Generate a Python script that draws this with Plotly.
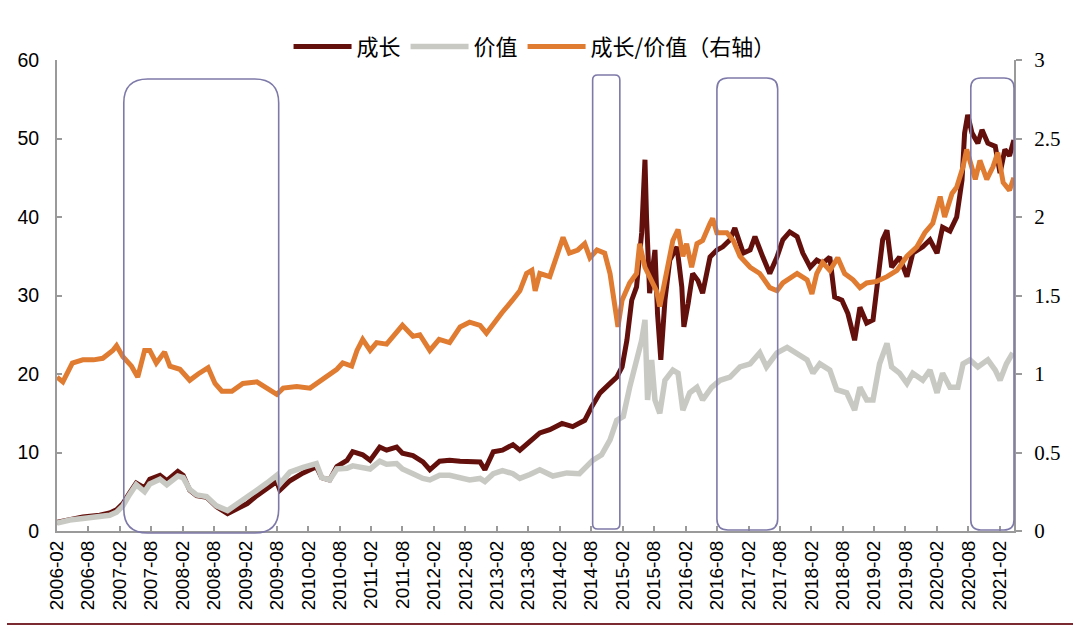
import plotly.graph_objects as go
import pandas as pd

# ---------------- data ----------------
growth_dates = [
    "2006-02-01", "2006-04-16", "2006-07-01", "2006-10-07", "2006-12-04", "2007-01-13", "2007-02-19",
    "2007-03-28", "2007-05-07", "2007-06-25", "2007-07-25", "2007-09-22", "2007-11-01", "2008-01-04",
    "2008-02-04", "2008-03-13", "2008-04-22", "2008-06-19", "2008-08-16", "2008-10-19", "2008-12-13",
    "2009-02-10", "2009-04-07", "2009-06-04", "2009-08-01", "2009-08-19", "2009-10-16", "2010-01-01",
    "2010-03-19", "2010-04-19", "2010-06-04", "2010-07-16", "2010-09-13", "2010-10-16", "2010-12-13",
    "2011-01-25", "2011-03-22", "2011-05-01", "2011-06-28", "2011-08-01", "2011-10-01", "2011-11-28",
    "2012-01-07", "2012-03-04", "2012-05-01", "2012-07-01", "2012-08-25", "2012-10-25", "2012-11-22",
    "2013-01-10", "2013-03-04", "2013-05-04", "2013-06-13", "2013-08-10", "2013-10-07",
    "2013-12-04", "2014-02-13", "2014-04-16", "2014-06-25", "2014-08-04", "2014-09-22", "2014-11-19",
    "2014-12-28", "2015-01-28", "2015-02-25", "2015-03-25", "2015-04-22", "2015-05-22", "2015-06-10",
    "2015-06-19", "2015-07-07", "2015-08-07", "2015-08-22", "2015-09-10", "2015-10-04", "2015-11-01",
    "2015-12-13", "2016-01-10", "2016-01-22", "2016-02-16", "2016-03-13", "2016-04-13", "2016-05-10",
    "2016-06-22", "2016-08-01", "2016-09-04", "2016-10-16", "2016-11-13", "2017-01-01", "2017-02-10",
    "2017-03-10", "2017-04-25", "2017-06-04", "2017-07-16", "2017-08-19", "2017-09-28", "2017-11-10",
    "2017-12-13", "2018-01-25", "2018-03-04", "2018-04-07", "2018-05-19", "2018-06-16", "2018-07-28",
    "2018-09-01", "2018-10-10", "2018-11-10", "2018-12-19", "2019-01-25", "2019-02-22", "2019-03-22",
    "2019-04-16", "2019-05-13", "2019-06-28", "2019-08-10", "2019-09-13", "2019-11-10", "2019-12-22",
    "2020-02-01", "2020-03-04", "2020-04-16", "2020-05-25", "2020-06-25", "2020-07-10", "2020-07-28",
    "2020-08-22", "2020-09-25", "2020-10-19", "2020-11-22", "2021-01-04", "2021-02-01", "2021-03-01",
    "2021-03-28", "2021-04-22",
]
growth_values = [
    1.1, 1.5, 1.8, 2.0, 2.3, 2.7, 3.5,
    4.8, 6.1, 5.5, 6.6, 7.1, 6.4, 7.6,
    7.1, 5.2, 4.5, 4.3, 3.1, 2.2, 2.9,
    3.5, 4.5, 5.5, 6.3, 5.2, 6.4, 7.4,
    8.2, 6.8, 6.5, 8.2, 9.0, 10.1, 9.7,
    9.0, 10.7, 10.3, 10.7, 9.9, 9.6, 8.8,
    7.8, 8.9, 9.0, 8.9, 8.9, 8.8, 7.8,
    10.1, 10.3, 11.0, 10.3, 11.4, 12.5,
    12.9, 13.7, 13.3, 14.1, 15.8, 17.6, 18.8,
    19.6, 20.9, 24.3, 29.4, 31.1, 38.0, 47.3,
    40.0, 30.3, 35.8, 27.7, 21.8, 29.4, 34.5,
    36.2, 31.1, 26.0, 29.0, 32.8, 31.9, 30.3,
    34.9, 35.8, 36.2, 37.1, 38.6, 35.4, 35.8,
    37.5, 34.9, 32.8, 34.9, 37.1, 38.1, 37.5,
    35.4, 33.6, 34.5, 34.1, 34.9, 29.8, 29.4,
    27.7, 24.3, 28.5, 26.5, 26.9, 32.0, 37.1,
    38.3, 33.6, 34.9, 32.4, 35.4, 36.2, 37.1,
    35.4, 38.7, 38.2, 40.0, 44.7, 50.7, 53.0,
    50.7, 49.4, 51.1, 49.4, 49.0, 45.6, 48.6,
    47.8, 49.8,
]

value_dates = [
    "2006-02-01", "2006-04-16", "2006-07-01", "2006-10-07", "2006-12-04", "2007-01-13", "2007-02-19",
    "2007-03-28", "2007-05-07", "2007-06-25", "2007-07-25", "2007-09-22", "2007-11-01", "2008-01-04",
    "2008-02-04", "2008-03-13", "2008-04-22", "2008-06-19", "2008-08-16", "2008-10-19", "2008-12-13",
    "2009-02-10", "2009-04-07", "2009-06-04", "2009-08-01", "2009-08-19", "2009-10-16", "2010-01-01",
    "2010-03-19", "2010-04-19", "2010-06-04", "2010-07-16", "2010-09-13", "2010-10-16", "2010-12-13",
    "2011-01-25", "2011-03-22", "2011-05-01", "2011-06-28", "2011-08-01", "2011-10-01", "2011-11-28",
    "2012-01-07", "2012-03-04", "2012-05-01", "2012-07-01", "2012-08-25", "2012-10-25", "2012-11-22",
    "2013-01-10", "2013-03-04", "2013-05-04", "2013-06-13", "2013-08-10", "2013-10-07",
    "2013-12-22", "2014-03-13", "2014-05-25", "2014-07-07", "2014-08-10", "2014-10-01", "2014-11-19",
    "2014-12-28", "2015-02-04", "2015-03-13", "2015-04-22", "2015-05-22", "2015-06-10", "2015-06-25",
    "2015-07-19", "2015-08-07", "2015-09-04", "2015-10-04", "2015-11-19", "2015-12-19", "2016-01-16",
    "2016-02-25", "2016-04-07", "2016-05-10", "2016-07-01", "2016-08-19", "2016-10-16", "2016-12-13",
    "2017-02-10", "2017-04-07", "2017-05-16", "2017-07-16", "2017-09-13", "2017-11-10", "2018-01-07",
    "2018-02-10", "2018-03-22", "2018-05-19", "2018-06-28", "2018-08-25", "2018-10-10", "2018-11-10",
    "2018-12-19", "2019-01-25", "2019-03-04", "2019-04-16", "2019-05-13", "2019-06-28", "2019-08-10",
    "2019-09-13", "2019-11-10", "2019-12-22", "2020-02-01", "2020-03-04", "2020-04-16", "2020-06-01",
    "2020-07-01", "2020-08-10", "2020-09-25", "2020-11-22", "2021-01-04", "2021-02-01", "2021-03-10",
    "2021-04-16",
]
value_values = [
    1.0, 1.4, 1.6, 1.8, 2.0, 2.4, 3.2,
    4.6, 5.9, 5.0, 6.0, 6.6, 5.9, 7.0,
    6.8, 5.3, 4.6, 4.4, 3.2, 2.6, 3.4,
    4.2, 5.2, 6.1, 7.1, 6.0, 7.5, 8.1,
    8.6, 6.8, 6.5, 7.9, 8.0, 8.3, 8.0,
    7.9, 8.9, 8.5, 8.6, 7.9, 7.3, 6.7,
    6.5, 7.1, 7.1, 6.7, 6.5, 6.7, 6.3,
    7.3, 7.7, 7.3, 6.7, 7.2, 7.8,
    7.0, 7.4, 7.3, 8.2, 9.0, 9.7, 11.6,
    14.1, 14.6, 18.3, 21.8, 24.3, 26.9, 16.7,
    21.8, 16.7, 15.0, 19.2, 20.5, 20.1, 15.4,
    17.6, 18.3, 16.7, 18.3, 19.2, 19.6, 20.9,
    21.3, 22.7, 20.9, 22.7, 23.4, 22.7, 21.8,
    20.1, 21.3, 20.5, 18.0, 17.6, 15.4, 18.3,
    16.7, 16.7, 21.3, 23.9, 20.9, 20.1, 18.8,
    20.1, 19.2, 20.5, 17.6, 20.1, 18.3, 18.3,
    21.3, 21.8, 20.9, 21.8, 20.5, 19.2, 21.3,
    22.7,
]

ratio_dates = [
    "2006-02-01", "2006-03-07", "2006-05-01", "2006-07-01", "2006-09-01", "2006-10-25", "2006-12-22",
    "2007-01-13", "2007-02-19", "2007-04-10", "2007-05-16", "2007-06-25", "2007-07-25", "2007-09-01",
    "2007-10-19", "2007-11-19", "2008-01-16", "2008-03-13", "2008-05-01", "2008-06-28", "2008-08-07",
    "2008-09-16", "2008-11-13", "2009-01-16", "2009-04-07", "2009-06-01", "2009-08-01", "2009-09-07",
    "2009-11-25", "2010-02-10", "2010-03-19", "2010-05-16", "2010-07-16", "2010-08-19", "2010-10-10",
    "2010-11-10", "2010-12-13", "2011-01-25", "2011-03-04", "2011-05-01", "2011-06-07", "2011-08-01",
    "2011-10-01", "2011-11-10", "2012-01-07", "2012-03-01", "2012-05-01", "2012-07-01", "2012-08-25",
    "2012-10-25", "2012-12-01", "2013-01-10", "2013-03-01", "2013-05-01", "2013-06-13", "2013-07-22",
    "2013-08-22", "2013-09-10", "2013-10-07", "2013-12-04", "2014-01-16", "2014-02-19", "2014-03-28",
    "2014-05-16", "2014-06-25", "2014-07-25", "2014-09-04", "2014-10-19", "2014-11-19", "2014-12-16",
    "2015-01-04", "2015-01-28", "2015-03-13", "2015-04-22", "2015-05-10", "2015-06-10", "2015-07-07",
    "2015-08-16", "2015-09-04", "2015-10-16", "2015-11-19", "2015-12-19", "2016-01-16", "2016-02-07",
    "2016-03-07", "2016-04-07", "2016-05-10", "2016-06-22", "2016-07-07", "2016-08-01", "2016-09-28",
    "2016-11-04", "2016-12-13", "2017-02-10", "2017-04-07", "2017-06-04", "2017-07-16", "2017-08-19",
    "2017-11-10", "2018-01-07", "2018-02-04", "2018-03-04", "2018-04-07", "2018-05-19", "2018-07-04",
    "2018-08-13", "2018-10-01", "2018-11-10", "2018-12-19", "2019-02-16", "2019-04-16", "2019-06-13",
    "2019-08-10", "2019-10-07", "2019-11-22", "2020-01-07", "2020-02-19", "2020-03-16", "2020-04-28",
    "2020-05-25", "2020-07-01", "2020-07-22", "2020-08-10", "2020-09-10", "2020-10-07", "2020-11-16",
    "2020-12-22", "2021-01-19", "2021-02-19", "2021-03-28", "2021-04-22",
]
ratio_values = [
    0.98, 0.95, 1.07, 1.09, 1.09, 1.10, 1.15,
    1.18, 1.11, 1.05, 0.98, 1.15, 1.15, 1.07,
    1.14, 1.05, 1.03, 0.96, 1.00, 1.04, 0.94,
    0.89, 0.89, 0.94, 0.95, 0.91, 0.87, 0.91,
    0.92, 0.91, 0.94, 0.98, 1.03, 1.07, 1.05,
    1.15, 1.22, 1.15, 1.20, 1.19, 1.24, 1.31,
    1.24, 1.25, 1.15, 1.22, 1.20, 1.30, 1.33,
    1.31, 1.26, 1.32, 1.39, 1.47, 1.53, 1.64,
    1.66, 1.53, 1.64, 1.62, 1.75, 1.87, 1.77,
    1.79, 1.83, 1.74, 1.79, 1.77, 1.64, 1.43,
    1.30, 1.47, 1.58, 1.64, 1.83, 1.68, 1.62,
    1.53, 1.43, 1.68, 1.85, 1.92, 1.75, 1.83,
    1.68, 1.83, 1.85, 1.96, 1.99, 1.90, 1.90,
    1.85, 1.75, 1.68, 1.64, 1.55, 1.53, 1.58,
    1.64, 1.60, 1.51, 1.64, 1.71, 1.66, 1.74,
    1.64, 1.60, 1.55, 1.58, 1.59, 1.62, 1.66,
    1.75, 1.81, 1.90, 1.96, 2.13, 2.00, 2.15,
    2.19, 2.32, 2.43, 2.36, 2.24, 2.36, 2.24,
    2.32, 2.41, 2.22, 2.17, 2.25,
]

# highlighted periods (start, end)
highlight_periods = [
    ("2007-02-24", "2009-08-12"),
    ("2014-08-10", "2015-01-15"),
    ("2016-08-01", "2017-07-20"),
    ("2020-08-15", "2021-04-23"),
]

series_names = ["成长", "价值", "成长/价值（右轴）"]

# tick labels every six months
tick_dates = pd.date_range("2006-02-01", "2021-02-01", freq="6MS")
tick_text = [d.strftime("%Y-%m") for d in tick_dates]

# ---------------- layout constants ----------------
W, H = 1080, 631
ML, MR, MT, MB = 57, 66, 60, 100
PW, PH = W - ML - MR, H - MT - MB
X_START, X_END = pd.Timestamp("2006-02-01"), pd.Timestamp("2021-04-23")

C_GROWTH = "#63100c"
C_VALUE = "#c9c9c4"
C_RATIO = "#e07b32"
C_BOX = "#7d79a8"
AX_COL = "#9a9a9a"

fig = go.Figure()
fig.add_trace(go.Scatter(x=pd.to_datetime(growth_dates), y=growth_values, name=series_names[0],
                         mode="lines", line=dict(color=C_GROWTH, width=5)))
fig.add_trace(go.Scatter(x=pd.to_datetime(value_dates), y=value_values, name=series_names[1],
                         mode="lines", line=dict(color=C_VALUE, width=5.5)))
fig.add_trace(go.Scatter(x=pd.to_datetime(ratio_dates), y=ratio_values, name=series_names[2],
                         mode="lines", line=dict(color=C_RATIO, width=5), yaxis="y2"))


def xfrac(d):
    return (pd.Timestamp(d) - X_START) / (X_END - X_START)


def rounded_rect(x0, x1, y0, y1, r):
    rx, ry = r / PW, r / PH
    return (f"M {x0+rx},{y1} L {x1-rx},{y1} Q {x1},{y1} {x1},{y1-ry} "
            f"L {x1},{y0+ry} Q {x1},{y0} {x1-rx},{y0} L {x0+rx},{y0} "
            f"Q {x0},{y0} {x0},{y0+ry} L {x0},{y1-ry} Q {x0},{y1} {x0+rx},{y1} Z")


box_style = [  # (top px, bottom px, corner radius px)
    (79, 533, 24),
    (75, 529, 5),
    (78, 530, 11),
    (78, 530, 10),
]
for (s, e), (tp, bp, r) in zip(highlight_periods, box_style):
    y1 = (MT + PH - tp) / PH
    y0 = (MT + PH - bp) / PH
    fig.add_shape(type="path", xref="paper", yref="paper",
                  path=rounded_rect(xfrac(s), xfrac(e), y0, y1, r),
                  line=dict(color=C_BOX, width=1.6), layer="above")

# bottom rule
fig.add_shape(type="line", xref="paper", yref="paper",
              x0=(7 - ML) / PW, x1=(1073 - ML) / PW,
              y0=(MT + PH - 624) / PH, y1=(MT + PH - 624) / PH,
              line=dict(color="#7a2a30", width=2))

fig.update_layout(
    width=W, height=H,
    margin=dict(l=ML, r=MR, t=MT, b=MB, pad=0),
    paper_bgcolor="white", plot_bgcolor="white",
    font=dict(family="Liberation Sans, Arial, sans-serif", color="black", size=18),
    showlegend=True,
    legend=dict(orientation="h", x=0.499, xanchor="center", y=1.028, yanchor="middle",
                font=dict(family="Noto Sans CJK SC", size=22, color="black"),
                bgcolor="rgba(0,0,0,0)", itemwidth=58, tracegroupgap=0),
    xaxis=dict(type="date", range=[X_START, X_END], tickmode="array",
               tickvals=tick_dates, ticktext=tick_text, tickangle=-90,
               ticks="inside", ticklen=5, tickcolor=AX_COL, tickwidth=1.5,
               showline=True, linecolor=AX_COL, linewidth=2, showgrid=False, zeroline=False,
               tickfont=dict(family="Liberation Sans, Arial", size=19, color="black")),
    yaxis=dict(range=[0, 60], dtick=10, ticks="inside", ticklen=5, tickcolor=AX_COL, tickwidth=1.5,
               showline=True, linecolor=AX_COL, linewidth=2, showgrid=False, zeroline=False,
               ticklabelstandoff=12,
               tickfont=dict(family="Liberation Sans, Arial", size=19.5, color="black")),
    yaxis2=dict(range=[0, 3], dtick=0.5, overlaying="y", side="right", anchor="x",
                ticks="outside", ticklen=6, tickcolor=AX_COL, tickwidth=1.5,
                showline=True, linecolor=AX_COL, linewidth=2, showgrid=False, zeroline=False,
                ticklabelstandoff=8,
                tickfont=dict(family="Liberation Serif, Times New Roman, serif", size=21, color="black")),
)

fig.write_html("out.html")
